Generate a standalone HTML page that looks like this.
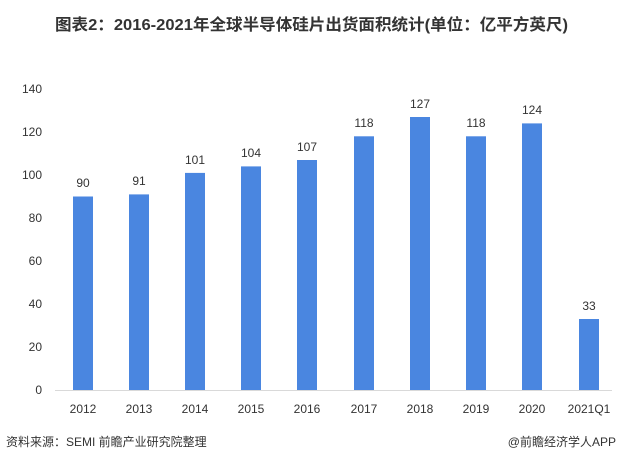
<!DOCTYPE html>
<html><head><meta charset="utf-8"><style>
body{margin:0;background:#fff;width:620px;height:464px;overflow:hidden;font-family:"Liberation Sans","Noto Sans CJK SC",sans-serif;}
</style></head><body>
<svg width="620" height="464" xmlns="http://www.w3.org/2000/svg" font-family="Liberation Sans, Noto Sans CJK SC, sans-serif">
<text x="55" y="30" textLength="513" lengthAdjust="spacingAndGlyphs" font-size="16" font-weight="bold" fill="#333">图表2：2016-2021年全球半导体硅片出货面积统计(单位：亿平方英尺)</text>
<g font-size="12" fill="#333" text-anchor="end">
<text x="42" y="394">0</text><text x="42" y="351">20</text><text x="42" y="308">40</text><text x="42" y="265">60</text><text x="42" y="222">80</text><text x="42" y="179">100</text><text x="42" y="136">120</text><text x="42" y="93">140</text>
</g>
<line x1="55" y1="390.5" x2="612" y2="390.5" stroke="#d9d9d9"/>
<g fill="#4a86e0">
<rect x="73" y="196.5" width="20" height="193.5"/>
<rect x="129" y="194.4" width="20" height="195.6"/>
<rect x="185" y="172.9" width="20" height="217.1"/>
<rect x="241" y="166.4" width="20" height="223.6"/>
<rect x="297" y="160" width="20" height="230"/>
<rect x="354" y="136.3" width="20" height="253.7"/>
<rect x="410" y="117" width="20" height="273"/>
<rect x="466" y="136.3" width="20" height="253.7"/>
<rect x="522" y="123.4" width="20" height="266.6"/>
<rect x="579" y="319" width="20" height="71"/>
</g>
<g font-size="12" fill="#333" text-anchor="middle">
<text x="83" y="187">90</text><text x="139" y="185">91</text><text x="195" y="164">101</text><text x="251" y="157">104</text><text x="307" y="151">107</text><text x="364" y="127">118</text><text x="420" y="108">127</text><text x="476" y="127">118</text><text x="532" y="114">124</text><text x="589" y="310">33</text>
<text x="83" y="413">2012</text><text x="139" y="413">2013</text><text x="195" y="413">2014</text><text x="251" y="413">2015</text><text x="307" y="413">2016</text><text x="364" y="413">2017</text><text x="420" y="413">2018</text><text x="476" y="413">2019</text><text x="532" y="413">2020</text><text x="589" y="413">2021Q1</text>
</g>
<text x="6" y="446" font-size="12" fill="#333">资料来源：SEMI 前瞻产业研究院整理</text>
<text x="616" y="446" font-size="12" fill="#333" text-anchor="end">@前瞻经济学人APP</text>
</svg>
</body></html>
